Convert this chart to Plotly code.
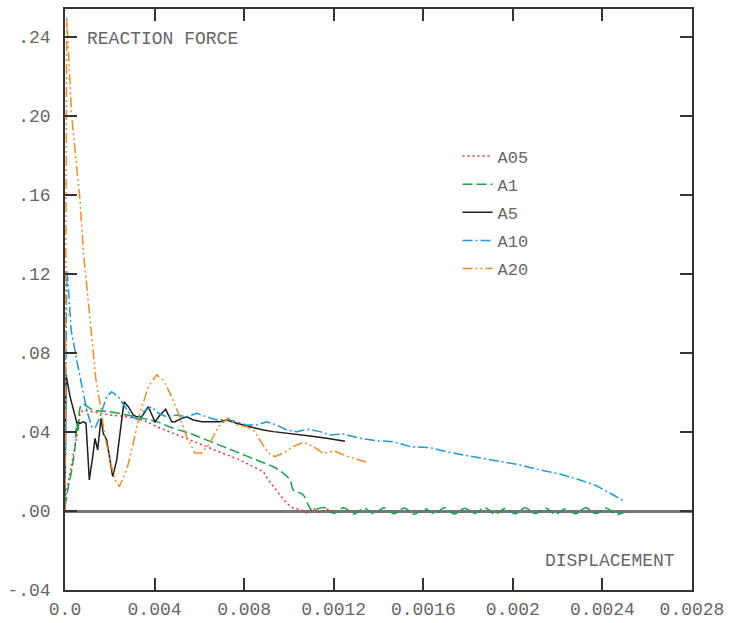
import plotly.graph_objects as go

# ---------------- data ----------------
a05_x = [0, 0.0000147, 0.00003, 0.0000522, 0.000067, 0.0000817, 0.000201, 0.0002755,
         0.0003497, 0.0004095, 0.0004836, 0.0005582, 0.0006328, 0.0007069, 0.0007815,
         0.0008409, 0.0008855, 0.0009079, 0.0009302, 0.0009601, 0.00099, 0.0010195,
         0.0010494, 0.001079, 0.0011088, 0.0011388, 0.0011686, 0.0012057]
a05_y = [0.0056, 0.0157, 0.024, 0.0376, 0.0495, 0.0511, 0.0486, 0.0477,
         0.0461, 0.0427, 0.0393, 0.0359, 0.0326, 0.0292, 0.0258,
         0.0224, 0.0199, 0.0157, 0.0123, 0.0081, 0.0039, 0.0014,
         0.0009, -0.001, 0.0014, -0.0008, 0.001, -0.0003]

a1_x = [0, 0.0000147, 0.00003, 0.0000447, 0.0000522, 0.000058, 0.000075, 0.0001264,
        0.000201, 0.0002755, 0.0003497, 0.0004095, 0.0004836, 0.0005582, 0.0006328,
        0.0007069, 0.0007815, 0.0008561, 0.0009302, 0.0009749, 0.0010048, 0.0010195,
        0.0010347, 0.0010642, 0.0010865, 0.0011017,
        0.001155, 0.0012, 0.001245, 0.00129, 0.001335, 0.00138, 0.001425, 0.00147,
        0.001515, 0.00156, 0.001605, 0.00165, 0.001695, 0.00174, 0.001785, 0.00183,
        0.001875, 0.00192, 0.001965, 0.00201, 0.002055, 0.0021, 0.002145, 0.00219,
        0.002235, 0.00228, 0.002325, 0.00237, 0.002415, 0.00246, 0.0025]
a1_y = [0.002, 0.0122, 0.0207, 0.0326, 0.045, 0.040, 0.054, 0.0511,
        0.0503, 0.0486, 0.0469, 0.0452, 0.0419, 0.0393, 0.0359,
        0.0326, 0.0292, 0.0258, 0.0224, 0.0191, 0.0157, 0.0106,
        0.0098, 0.0081, 0.003, 0.0005,
        0.0018, -0.0012, 0.0016, -0.0015, 0.0014, -0.0013, 0.0017, -0.0014,
        0.0015, -0.0016, 0.0012, -0.0013, 0.0016, -0.0015, 0.0014, -0.0012,
        0.0017, -0.0016, 0.0013, -0.0014, 0.0016, -0.0013, 0.0015, -0.0016,
        0.0012, -0.0014, 0.0017, -0.0013, 0.0015, -0.0016, -0.0005]

a5_x = [0, 0.0000045, 0.0000223, 0.0000371, 0.0000522, 0.000067, 0.0000817, 0.0000938,
        0.0001085, 0.0001237, 0.000134, 0.000146, 0.0001608, 0.000171, 0.0001862,
        0.000213, 0.0002309, 0.0002456, 0.0002635, 0.0002827, 0.000305, 0.0003202,
        0.0003425, 0.000372, 0.0004019, 0.0004242, 0.0004497, 0.0004765, 0.0004912,
        0.0005211, 0.0005435, 0.0005729, 0.0006105, 0.0006475, 0.0006922, 0.0007221,
        0.0007668, 0.0008262, 0.0008855, 0.0009302, 0.0010048, 0.0010941, 0.0011686,
        0.0012504]
a5_y = [0.001, 0.069, 0.058, 0.051, 0.045, 0.0444, 0.0452, 0.0444,
        0.0157, 0.0275, 0.0368, 0.0309, 0.0469, 0.0393, 0.0359,
        0.0174, 0.0258, 0.0393, 0.0553, 0.0528, 0.0486, 0.0477,
        0.0477, 0.0528, 0.0452, 0.0486, 0.0515, 0.0452, 0.0452,
        0.0469, 0.0477, 0.0461, 0.0452, 0.0452, 0.0452, 0.0461,
        0.0444, 0.0427, 0.041, 0.0402, 0.0393, 0.038, 0.0368,
        0.0353]

a10_x = [0, 0.0000076, 0.000012, 0.000027, 0.0000522, 0.0000746, 0.0000969, 0.0001192,
         0.000134, 0.0001563, 0.0001862, 0.0002085, 0.000238, 0.0002679, 0.0002979,
         0.0003349, 0.0003497, 0.0003872, 0.0004166, 0.0004542, 0.0004988, 0.0005435,
         0.0005881, 0.0006328, 0.0006774, 0.0007221, 0.0007668, 0.0008114, 0.0008561,
         0.0009007, 0.0009454, 0.00099, 0.0010347, 0.0010865, 0.0011388, 0.0011834,
         0.0012428, 0.0013174, 0.0013919, 0.0014661, 0.0015407, 0.00163, 0.0017045,
         0.0017787, 0.001868, 0.0019426, 0.0020319, 0.0021212, 0.0022105, 0.0022998,
         0.0023744, 0.0024485, 0.0025]
a10_y = [0.004, 0.122, 0.118, 0.092, 0.0765, 0.0629, 0.0511, 0.0427,
         0.0419, 0.0477, 0.0579, 0.0604, 0.0579, 0.0528, 0.0477,
         0.0461, 0.0503, 0.0528, 0.0495, 0.0477, 0.0486, 0.0477,
         0.0495, 0.0477, 0.0461, 0.0464, 0.0452, 0.0435, 0.0435,
         0.0452, 0.0435, 0.041, 0.0402, 0.0414, 0.0402, 0.0385,
         0.039, 0.0368, 0.0356, 0.0351, 0.0326, 0.0321, 0.03,
         0.0284, 0.0267, 0.025, 0.0233, 0.0208, 0.0187, 0.0157,
         0.0127, 0.0081, 0.0047]

a20_x = [0, 0.000003, 0.0000076, 0.0000299, 0.000067, 0.0000835, 0.000104, 0.0001384,
         0.0001563, 0.0001786, 0.000201, 0.0002233, 0.0002425, 0.0002755, 0.000305,
         0.0003349, 0.000372, 0.0004095, 0.0004376, 0.0004689, 0.0005059, 0.0005435,
         0.0005805, 0.0006105, 0.0006475, 0.0006846, 0.0007293, 0.0007668, 0.0008114,
         0.0008485, 0.0008784, 0.0009079, 0.0009378, 0.0009749, 0.0010195, 0.0010642,
         0.0011088, 0.0011535, 0.0012057, 0.0012428, 0.0012874, 0.0013473]
a20_y = [0.0, 0.16, 0.2503, 0.1997, 0.1575, 0.1296, 0.1068, 0.0663,
         0.0547, 0.0375, 0.0258, 0.0157, 0.0123, 0.0208, 0.0344,
         0.0496, 0.0629, 0.0689, 0.0663, 0.0597, 0.0496, 0.0376,
         0.0294, 0.0294, 0.0344, 0.0427, 0.0471, 0.0435, 0.0427,
         0.0402, 0.0344, 0.0294, 0.0275, 0.0294, 0.0326, 0.0348,
         0.0326, 0.0292, 0.0304, 0.0284, 0.0267, 0.0247]

series_names = ["A05", "A1", "A5", "A10", "A20"]

x_tickvals = [0, 0.0004, 0.0008, 0.0012, 0.0016, 0.002, 0.0024, 0.0028]
x_ticktext = ["0.0", "0.004", "0.008", "0.0012", "0.0016", "0.002", "0.0024", "0.0028"]
y_tickvals = [-0.04, 0.0, 0.04, 0.08, 0.12, 0.16, 0.20, 0.24]
y_ticktext = ["-.04", ".00", ".04", ".08", ".12", ".16", ".20", ".24"]

# ---------------- styling ----------------
FONT = "Liberation Mono, Courier New, monospace"
TXT = "#666666"
AX = "#333333"

styles = [
    dict(color="#e8333b", dash="2px,3px", shape="linear"),
    dict(color="#19a24a", dash="10px,4px", shape="spline"),
    dict(color="#1e1e1e", dash="solid", shape="linear"),
    dict(color="#1d9ad8", dash="10px,3px,2px,3px", shape="linear"),
    dict(color="#f28a26", dash="10px,3px,2px,3px,2px,3px", shape="linear"),
]
xs = [a05_x, a1_x, a5_x, a10_x, a20_x]
ys = [a05_y, a1_y, a5_y, a10_y, a20_y]

fig = go.Figure()
for i, (name, x, y, st) in enumerate(zip(series_names, xs, ys, styles)):
    fig.add_trace(go.Scatter(
        x=x, y=y, mode="lines", name=name, legendgroup=name,
        line=dict(color=st["color"], width=1.5, dash=st["dash"], shape=st["shape"]),
    ))

axis_common = dict(
    showgrid=False, showline=True, linecolor=AX, linewidth=1.5, mirror="ticks",
    ticks="inside", ticklen=12, tickwidth=1.5, tickcolor=AX, automargin=False,
    tickfont=dict(family=FONT, size=18, color=TXT),
)

fig.update_layout(
    width=730, height=623,
    margin=dict(l=65, r=38, t=9, b=33),
    paper_bgcolor="white", plot_bgcolor="white",
    font=dict(family=FONT, size=18, color=TXT),
    xaxis=dict(range=[0, 0.0028], tickmode="array", tickvals=x_tickvals,
               ticktext=x_ticktext, zeroline=False, ticklabelstandoff=2,
               **axis_common),
    yaxis=dict(range=[-0.04, 0.2542], tickmode="array", tickvals=y_tickvals,
               ticktext=y_ticktext, zeroline=True, zerolinecolor="#777777",
               zerolinewidth=2.5, ticklabelstandoff=9, **axis_common),
    legend=dict(x=0.626, y=0.777, xanchor="left", yanchor="top",
                bgcolor="rgba(0,0,0,0)", font=dict(family=FONT, size=17, color=TXT),
                tracegroupgap=3),
    showlegend=True,
    annotations=[
        dict(text="REACTION FORCE", xref="paper", yref="paper", x=0.032, y=0.948,
             xanchor="left", yanchor="middle", showarrow=False,
             font=dict(family=FONT, size=18, color=TXT)),
        dict(text="DISPLACEMENT", xref="paper", yref="paper", x=0.976, y=0.05,
             xanchor="right", yanchor="middle", showarrow=False,
             font=dict(family=FONT, size=18, color=TXT)),
    ],
)

fig.write_html("out.html")
